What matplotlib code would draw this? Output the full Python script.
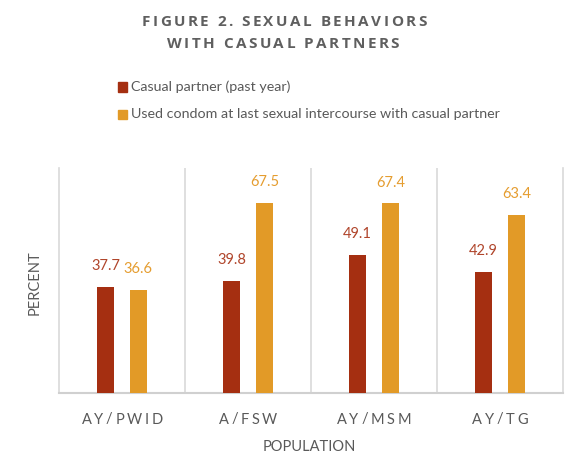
import matplotlib
matplotlib.use("Agg")
import matplotlib.pyplot as plt
from matplotlib.transforms import IdentityTransform
import numpy as np

categories = ["AY/PWID", "A/FSW", "AY/MSM", "AY/TG"]
casual_partner = [37.7, 39.8, 49.1, 42.9]
condom_use = [36.6, 67.5, 67.4, 63.4]
series_names = ["Casual partner (past year)",
                "Used condom at last sexual intercourse with casual partner"]
title_lines = ["FIGURE 2. SEXUAL BEHAVIORS", "WITH CASUAL PARTNERS"]

RED = "#A52F11"
ORANGE = "#E29A27"
RED_TXT = "#B0452B"
ORANGE_TXT = "#E59D30"
GRAY = "#595959"
GRID = "#D9D9D9"

W, H = 576, 457
fig = plt.figure(figsize=(W / 100, H / 100), dpi=100)
ax = fig.add_axes([59 / W, 1 - 393 / H, (563 - 59) / W, (393 - 168) / H])

x = np.arange(len(categories))
bw = 0.14
off = 0.13
b1 = ax.bar(x - off, casual_partner, bw, color=RED, zorder=3)
b2 = ax.bar(x + off, condom_use, bw, color=ORANGE, zorder=3)

for bars, vals, col in [(b1, casual_partner, RED_TXT), (b2, condom_use, ORANGE_TXT)]:
    for r, v in zip(bars, vals):
        ax.annotate(f"{v:.1f}", (r.get_x() + r.get_width() / 2, v),
                    xytext=(0, 10), textcoords="offset points",
                    ha="center", va="bottom", color=col, fontsize=10.5,
                    family="Lato")

ax.set_xlim(-0.5, len(categories) - 0.5)
ax.set_ylim(0, 80)
for b in np.arange(0.5, len(categories) - 0.5, 1):
    ax.axvline(b, color=GRID, lw=1.2, zorder=1)
for s in ["top"]:
    ax.spines[s].set_visible(False)
for s in ["left", "right"]:
    ax.spines[s].set_color(GRID)
    ax.spines[s].set_linewidth(1.2)
ax.spines["bottom"].set_color("#D0D0D0")
ax.spines["bottom"].set_linewidth(1.5)
ax.set_xticks(x)
ax.set_xticklabels([])
ax.set_yticks([])
ax.tick_params(length=0)

renderer = fig.canvas.get_renderer()


def char_width(ch, **kw):
    t1 = fig.text(0, 0, "|" + ch + "|", **kw)
    t2 = fig.text(0, 0, "||", **kw)
    w = t1.get_window_extent(renderer).width - t2.get_window_extent(renderer).width
    t1.remove(); t2.remove()
    return w


def tracked(xc, yc, s, tracking, **kw):
    widths = [char_width(c, **kw) for c in s]
    total = sum(widths) + tracking * (len(s) - 1)
    cur = xc - total / 2
    for c, w in zip(s, widths):
        fig.text(cur, yc, c, transform=IdentityTransform(), ha="left",
                 va="center_baseline", **kw)
        cur += w + tracking


# Title (pixel y from top -> display y from bottom)
tkw = dict(size=11, family="Open Sans", weight="bold", color="#5F5F5F")
tracked(284, H - 20, title_lines[0], 2.45, **tkw)
tracked(283, H - 43, title_lines[1], 2.45, **tkw)

# Category labels
lkw = dict(size=10.5, family="Lato", color=GRAY)
for i, c in enumerate(categories):
    px = ax.transData.transform((i, 0))[0]
    tracked(px, H - 418, c, 2.7, **lkw)

fig.text(309 / W, 1 - 447 / H, "POPULATION", ha="center", va="center",
         fontsize=10.5, family="Lato", color=GRAY)
fig.text(35 / W, 1 - 283 / H, "PERCENT", ha="center", va="center",
         rotation=90, fontsize=10.5, family="Lato", color=GRAY)

# Legend
for k, (name, col) in enumerate(zip(series_names, [RED, ORANGE])):
    yc = 87 + 27 * k
    fig.patches.append(plt.Rectangle((118 / W, 1 - (yc + 4.5) / H), 9 / W, 9 / H,
                                     transform=fig.transFigure, color=col))
    fig.text(131 / W, 1 - yc / H, name, ha="left", va="center",
             fontsize=10.25, family="Lato", color=GRAY)

fig.savefig("out.png", dpi=100)
